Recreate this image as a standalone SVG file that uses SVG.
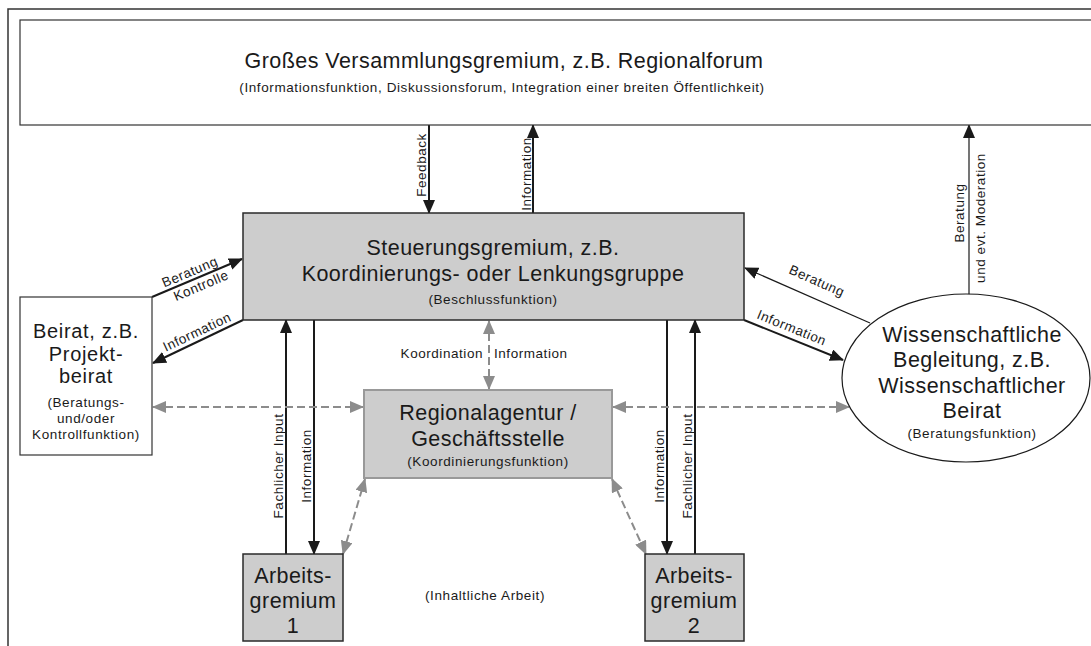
<svg xmlns="http://www.w3.org/2000/svg" width="1091" height="646" viewBox="0 0 1091 646">
  <style>
    text { font-family: "Liberation Sans", Arial, sans-serif; fill: #1a1a1a; }
    .big { font-size: 21.5px; letter-spacing: 0.45px; }
    .beirat { font-size: 20px; letter-spacing: 0.7px; }
    .sub { font-size: 13.5px; letter-spacing: 0.6px; }
    .lbl { font-size: 13.5px; letter-spacing: 0.55px; }
    .mid { text-anchor: middle; }
    .frame { fill: none; stroke: #333; stroke-width: 1.5; }
    .box-white { fill: #fff; stroke: #333; stroke-width: 1.2; }
    .box-dark { fill: #cdcdcd; stroke: #2a2a2a; stroke-width: 1.5; }
    .box-grey { fill: #cdcdcd; stroke: #999; stroke-width: 2; }
    .arrow { fill: none; stroke: #1a1a1a; stroke-width: 2; }
    .arrow-thin { fill: none; stroke: #1a1a1a; stroke-width: 1.2; }
    .dash { fill: none; stroke: #8c8c8c; stroke-width: 2; stroke-dasharray: 8 4; }
  </style>
  <defs>
    <marker id="head" markerUnits="userSpaceOnUse" markerWidth="14" markerHeight="12" viewBox="0 0 14 12" refX="13" refY="6" orient="auto-start-reverse">
      <path d="M0,0 L14,6 L0,12 z" fill="#1a1a1a"/>
    </marker>
    <marker id="head-grey" markerUnits="userSpaceOnUse" markerWidth="14" markerHeight="12" viewBox="0 0 14 12" refX="13" refY="6" orient="auto-start-reverse">
      <path d="M0,0 L14,6 L0,12 z" fill="#8c8c8c"/>
    </marker>
  </defs>

  <rect width="1091" height="646" fill="#fff"/>
  <!-- outer frame, open towards the right and bottom edges -->
  <rect class="frame" x="8" y="9" width="1200" height="800"/>

  <!-- connectors -->
  <g id="connectors">
    <!-- Regionalforum <-> Steuerungsgremium -->
    <line class="arrow" x1="429" y1="125" x2="429" y2="213" marker-end="url(#head)"/>
    <line class="arrow" x1="533" y1="213" x2="533" y2="125" marker-end="url(#head)"/>
    <!-- Beirat <-> Steuerungsgremium -->
    <line class="arrow" x1="152" y1="297" x2="242" y2="259" marker-end="url(#head)"/>
    <line class="arrow" x1="243" y1="320" x2="153" y2="363" marker-end="url(#head)"/>
    <!-- Wissenschaftliche Begleitung <-> Steuerungsgremium -->
    <line class="arrow-thin" x1="870" y1="323" x2="745" y2="268" marker-end="url(#head)"/>
    <line class="arrow" x1="744" y1="320" x2="843" y2="360" marker-end="url(#head)"/>
    <!-- Wissenschaftliche Begleitung -> Regionalforum -->
    <line class="arrow-thin" x1="969" y1="295" x2="969" y2="125" marker-end="url(#head)"/>
    <!-- Steuerungsgremium <-> Arbeitsgremien -->
    <line class="arrow" x1="286" y1="554" x2="286" y2="320" marker-end="url(#head)"/>
    <line class="arrow" x1="314" y1="320" x2="314" y2="554" marker-end="url(#head)"/>
    <line class="arrow" x1="667" y1="320" x2="667" y2="554" marker-end="url(#head)"/>
    <line class="arrow" x1="695" y1="554" x2="695" y2="320" marker-end="url(#head)"/>
    <!-- Regionalagentur coordination links -->
    <line class="dash" x1="489" y1="321" x2="489" y2="389" marker-start="url(#head-grey)" marker-end="url(#head-grey)"/>
    <line class="dash" x1="153" y1="407" x2="363" y2="407" marker-start="url(#head-grey)" marker-end="url(#head-grey)"/>
    <line class="dash" x1="613" y1="407" x2="849" y2="407" marker-start="url(#head-grey)" marker-end="url(#head-grey)"/>
    <line class="dash" x1="343" y1="554" x2="365" y2="479" marker-start="url(#head-grey)" marker-end="url(#head-grey)"/>
    <line class="dash" x1="612" y1="479" x2="646" y2="554" marker-start="url(#head-grey)" marker-end="url(#head-grey)"/>

    <!-- connector labels -->
    <text class="lbl mid" transform="translate(426,165) rotate(-90)">Feedback</text>
    <text class="lbl mid" transform="translate(531,174) rotate(-90)">Information</text>
    <text class="lbl mid" transform="translate(283,466) rotate(-90)">Fachlicher Input</text>
    <text class="lbl mid" transform="translate(311,466) rotate(-90)">Information</text>
    <text class="lbl mid" transform="translate(664,466) rotate(-90)">Information</text>
    <text class="lbl mid" transform="translate(692,466) rotate(-90)">Fachlicher Input</text>
    <text class="lbl mid" transform="translate(964,213) rotate(-90)">Beratung</text>
    <text class="lbl mid" transform="translate(985,218) rotate(-90)">und evt. Moderation</text>
    <g transform="translate(195,279) rotate(-22.9)">
      <text class="lbl mid" x="-2" y="-4">Beratung</text>
      <text class="lbl mid" x="3" y="13">Kontrolle</text>
    </g>
    <text class="lbl mid" transform="translate(199,336) rotate(-25.5)">Information</text>
    <text class="lbl mid" transform="translate(815,285) rotate(23.9)">Beratung</text>
    <text class="lbl mid" transform="translate(790,332) rotate(22.2)">Information</text>
    <text class="lbl" x="483" y="358" text-anchor="end">Koordination</text>
    <text class="lbl" x="494" y="358">Information</text>
    <text class="sub mid" x="485" y="600">(Inhaltliche Arbeit)</text>
  </g>

  <g id="regionalforum">
    <rect class="box-white" x="20" y="20" width="1200" height="105"/>
    <text class="big mid" x="504" y="68">Großes Versammlungsgremium, z.B. Regionalforum</text>
    <text class="sub mid" x="502" y="92">(Informationsfunktion, Diskussionsforum, Integration einer breiten Öffentlichkeit)</text>
  </g>

  <g id="steuerungsgremium">
    <rect class="box-dark" x="243" y="213" width="501" height="107"/>
    <text class="big mid" x="493" y="255">Steuerungsgremium, z.B.</text>
    <text class="big mid" x="493" y="281">Koordinierungs- oder Lenkungsgruppe</text>
    <text class="sub mid" x="493" y="304">(Beschlussfunktion)</text>
  </g>

  <g id="beirat">
    <rect class="box-white" x="20" y="297" width="132" height="158"/>
    <text class="beirat mid" x="86" y="338">Beirat, z.B.</text>
    <text class="beirat mid" x="86" y="360.5">Projekt-</text>
    <text class="beirat mid" x="86" y="383">beirat</text>
    <text class="sub mid" x="86" y="407">(Beratungs-</text>
    <text class="sub mid" x="86" y="423">und/oder</text>
    <text class="sub mid" x="86" y="439">Kontrollfunktion)</text>
  </g>

  <g id="regionalagentur">
    <rect class="box-grey" x="364" y="390" width="248" height="88"/>
    <text class="big mid" x="488" y="420">Regionalagentur /</text>
    <text class="big mid" x="488" y="446">Geschäftsstelle</text>
    <text class="sub mid" x="488" y="466">(Koordinierungsfunktion)</text>
  </g>

  <g id="wissenschaftliche-begleitung">
    <ellipse cx="966" cy="378" rx="124" ry="84" fill="#fff" stroke="#1a1a1a" stroke-width="1.2"/>
    <text class="big mid" x="972" y="342">Wissenschaftliche</text>
    <text class="big mid" x="972" y="367">Begleitung, z.B.</text>
    <text class="big mid" x="972" y="393">Wissenschaftlicher</text>
    <text class="big mid" x="972" y="418">Beirat</text>
    <text class="sub mid" x="972" y="438">(Beratungsfunktion)</text>
  </g>

  <g id="arbeitsgremium-1">
    <rect class="box-dark" x="243" y="554" width="100" height="87" stroke="#444"/>
    <text class="big mid" x="293" y="583">Arbeits-</text>
    <text class="big mid" x="293" y="608">gremium</text>
    <text class="big mid" x="293" y="633">1</text>
  </g>

  <g id="arbeitsgremium-2">
    <rect class="box-dark" x="645" y="554" width="99" height="87" stroke="#444"/>
    <text class="big mid" x="694" y="583">Arbeits-</text>
    <text class="big mid" x="694" y="608">gremium</text>
    <text class="big mid" x="694" y="633">2</text>
  </g>
</svg>
